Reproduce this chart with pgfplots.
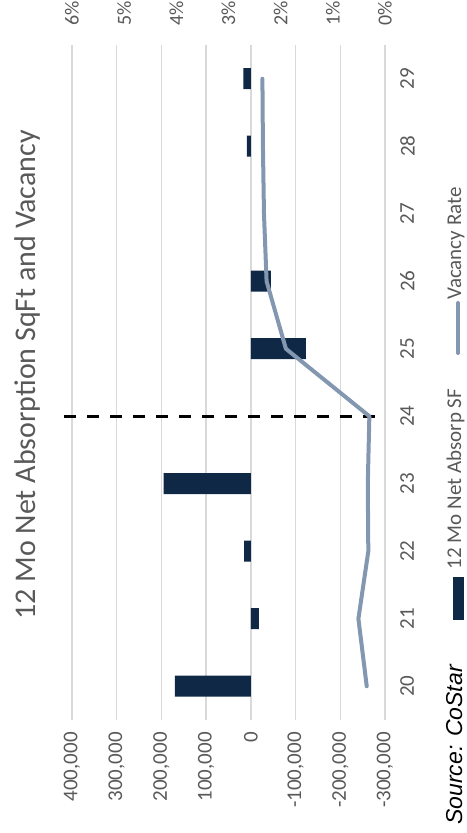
\documentclass[border=0pt]{standalone}
\usepackage{pgfplots}
\pgfplotsset{compat=1.18}
\usepackage{fontspec}
\setmainfont{Carlito}
\newfontfamily\arialfont{Liberation Sans}
\definecolor{barcol}{RGB}{14,40,70}
\definecolor{vaccol}{RGB}{132,151,176}
\definecolor{txtgray}{RGB}{89,89,89}
\definecolor{gridgray}{RGB}{217,217,217}
\begin{document}
\begin{tikzpicture}[x=1bp,y=1bp]
\useasboundingbox (0,0) rectangle (467,833);
\begin{axis}[
  at={(228.5bp,450.5bp)}, anchor=center,
  width=313bp, height=675bp, scale only axis,
  x dir=reverse,
  xmin=-300000, xmax=400000,
  ymin=19.5, ymax=29.5,
  scaled x ticks=false,
  xtick={-300000,-200000,-100000,0,100000,200000,300000,400000},
  xticklabels={{-300,000},{-200,000},{-100,000},{0},{100,000},{200,000},{300,000},{400,000}},
  ytick={20,21,22,23,24,25,26,27,28,29},
  yticklabels={20,21,22,23,24,25,26,27,28,29},
  axis line style={draw=none},
  major tick length=0pt,
  xmajorgrids, grid style={gridgray, line width=1.3bp},
  xticklabel style={yshift=-12bp, rotate=90, anchor=east, inner sep=0pt,
     font=\fontsize{21bp}{25bp}\selectfont, text=txtgray},
  yticklabel pos=right,
  yticklabel style={xshift=15bp, rotate=90, anchor=north, inner sep=0pt,
     font=\fontsize{21bp}{25bp}\selectfont, text=txtgray},
  clip=false,
]
\addplot[xbar, bar width=21bp, fill=barcol, draw=none] coordinates {
  (170000,20) (-18000,21) (15000,22) (195000,23)
  (-123000,25) (-45000,26) (9000,28) (17000,29)};
\addplot[black, line width=3bp, dash pattern=on 12bp off 11bp] coordinates {(417000,24) (-296000,24)};
\end{axis}
\begin{axis}[
  at={(228.5bp,450.5bp)}, anchor=center,
  width=313bp, height=675bp, scale only axis,
  x dir=reverse,
  xmin=0, xmax=6, ymin=19.5, ymax=29.5,
  axis x line*=top, axis y line=none,
  axis line style={draw=none}, major tick length=0pt,
  xtick={0,1,2,3,4,5,6},
  xticklabels={0\%,1\%,2\%,3\%,4\%,5\%,6\%},
  xticklabel style={yshift=19bp, rotate=90, anchor=west, inner sep=0pt,
     font=\fontsize{20bp}{24bp}\selectfont, text=txtgray},
  clip=false,
]
\addplot[vaccol, line width=4bp, line cap=round, line join=round] coordinates {
  (0.35,20) (0.51,21) (0.32,22) (0.33,23) (0.30,24)
  (1.90,25) (2.27,26) (2.32,27) (2.34,28) (2.35,29)};
\end{axis}
% title
\node[rotate=90, anchor=base, text=txtgray, font=\fontsize{30bp}{34bp}\selectfont, inner sep=0pt]
  at (35,458) {12 Mo Net Absorption SqFt and Vacancy};
% legend
\draw[vaccol, line width=4bp, line cap=round] (458,480) -- (458,530);
\node[rotate=90, anchor=base, text=txtgray, font=\fontsize{21bp}{25bp}\selectfont, inner sep=0pt]
  at (461,589.5) {Vacancy Rate};
\fill[barcol] (453,213) rectangle (464,256);
\node[rotate=90, anchor=base, text=txtgray, font=\fontsize{21bp}{25bp}\selectfont, inner sep=0pt]
  at (461,354) {12 Mo Net Absorp SF};
\node[rotate=90, anchor=base, text=black, font=\arialfont\itshape\fontsize{23bp}{27bp}\selectfont, inner sep=0pt]
  at (462,88) {Source: CoStar};
\end{tikzpicture}
\end{document}
